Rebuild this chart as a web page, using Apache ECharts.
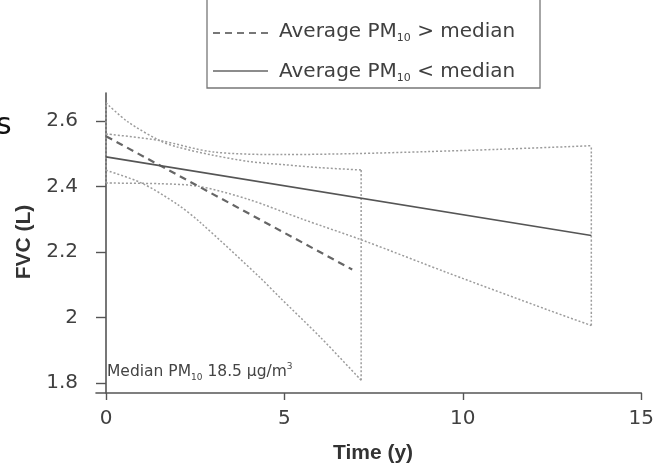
<!DOCTYPE html>
<html>
<head>
<meta charset="utf-8">
<script src="https://cdn.jsdelivr.net/npm/echarts@6/dist/echarts.min.js"></script>
<style>
html,body{margin:0;padding:0;background:#fff;}
#c{width:657px;height:467px;}
</style>
</head>
<body>
<div id="c"></div>
<script>
// ---- data ----
var xTicks = [0, 5, 10, 15];
var yTicks = [1.8, 2, 2.2, 2.4, 2.6];

// Average PM10 > median (dashed) : fitted line and confidence limits
var highMeanTime = [0, 6.9];
var highMeanFVC  = [2.553, 2.146];
var highUpperTime = [0, 0.6, 1.5, 2, 3, 4, 5, 6, 7.15];
var highUpperFVC  = [2.655, 2.598, 2.54, 2.52, 2.495, 2.476, 2.466, 2.457, 2.45];
var highLowerTime = [0, 1, 2, 2.64, 4.3, 4.86, 6, 7.15];
var highLowerFVC  = [2.449, 2.41, 2.345, 2.29, 2.123, 2.062, 1.94, 1.808];
var highEndTime = [7.15, 7.15];
var highEndFVC  = [1.808, 2.45];

// Average PM10 < median (solid) : fitted line and confidence limits
var lowMeanTime = [0, 13.6];
var lowMeanFVC  = [2.49, 2.25];
var lowUpperTime = [0, 1.5, 3, 5, 7, 9, 11, 13.6];
var lowUpperFVC  = [2.56, 2.54, 2.505, 2.497, 2.5, 2.506, 2.513, 2.524];
var lowLowerTime = [0, 1.5, 2.6, 4, 5.5, 7.2, 9.6, 12.4, 13.6];
var lowLowerFVC  = [2.41, 2.408, 2.4, 2.36, 2.3, 2.235, 2.135, 2.022, 1.975];
var lowEndTime = [13.6, 13.6];
var lowEndFVC  = [1.975, 2.524];

var startTime = [0, 0];
var startFVC  = [2.41, 2.655];

function pairs(xs, ys){ return xs.map(function(x,i){ return [x, ys[i]]; }); }

var ciStyle = {color:'#9c9c9c', width:1.5, type:[2,2]};
function ci(name, xs, ys){
  return {name:name, type:'line', data:pairs(xs,ys), symbol:'none', smooth:0.3,
          lineStyle:ciStyle, silent:true, z:2};
}

var chart = echarts.init(document.getElementById('c'), null, {renderer:'canvas'});
var FONT = 'DejaVu Sans';
chart.setOption({
  animation:false,
  backgroundColor:'#fff',
  grid:{left:96, right:12, top:93, bottom:74},
  xAxis:{
    type:'value', min:-0.28, max:15,
    axisLine:{show:true, lineStyle:{color:'#555', width:1.6}},
    axisTick:{show:true, length:7, customValues:xTicks, lineStyle:{color:'#555', width:1.4}},
    axisLabel:{customValues:xTicks, margin:16, color:'#404040', fontSize:20, fontFamily:FONT},
    splitLine:{show:false}
  },
  yAxis:{
    type:'value', min:1.769, max:2.685,
    axisLine:{show:true, lineStyle:{color:'#555', width:1.6}},
    axisTick:{show:true, length:10, customValues:yTicks, lineStyle:{color:'#555', width:1.4}},
    axisLabel:{customValues:yTicks, margin:18, color:'#404040', fontSize:20, fontFamily:FONT},
    splitLine:{show:false}
  },
  series:[
    ci('high upper', highUpperTime, highUpperFVC),
    ci('high lower', highLowerTime, highLowerFVC),
    ci('high end', highEndTime, highEndFVC),
    ci('low upper', lowUpperTime, lowUpperFVC),
    ci('low lower', lowLowerTime, lowLowerFVC),
    ci('low end', lowEndTime, lowEndFVC),
    ci('start', startTime, startFVC),
    {name:'Average PM10 > median', type:'line', data:pairs(highMeanTime, highMeanFVC), symbol:'none',
     lineStyle:{color:'#666', width:2.2, type:[7,5]}, z:3},
    {name:'Average PM10 < median', type:'line', data:pairs(lowMeanTime, lowMeanFVC), symbol:'none',
     lineStyle:{color:'#555', width:1.7}, z:3}
  ],
  graphic:[
    {type:'text', x:-4, y:126, style:{text:'s', fontSize:30, fontFamily:FONT, fill:'#111', verticalAlign:'middle'}},
    {type:'rect', shape:{x:207, y:-5, width:333, height:93}, style:{fill:'#fff', stroke:'#777', lineWidth:1.3}, z:10},
    {type:'line', shape:{x1:213, y1:33, x2:268, y2:33}, style:{stroke:'#777', lineWidth:2, lineDash:[7,5]}, z:11},
    {type:'line', shape:{x1:213, y1:71, x2:268, y2:71}, style:{stroke:'#666', lineWidth:1.5}, z:11},
    {type:'text', x:279, y:32, z:11, style:{
      text:'{a|Average PM}{s|10}{a| > median}', verticalAlign:'middle',
      rich:{a:{fontSize:20, fontFamily:FONT, fill:'#404040', lineHeight:24},
            s:{fontSize:11, fontFamily:FONT, fill:'#404040', verticalAlign:'bottom', lineHeight:11}}}},
    {type:'text', x:279, y:72, z:11, style:{
      text:'{a|Average PM}{s|10}{a| < median}', verticalAlign:'middle',
      rich:{a:{fontSize:20, fontFamily:FONT, fill:'#404040', lineHeight:24},
            s:{fontSize:11, fontFamily:FONT, fill:'#404040', verticalAlign:'bottom', lineHeight:11}}}},
    {type:'text', x:107, y:372, z:11, style:{
      text:'{a|Median PM}{s|10}{a| 18.5 μg/m}{p|3}', verticalAlign:'middle',
      rich:{a:{fontSize:15.5, fontFamily:FONT, fill:'#444', lineHeight:20},
            s:{fontSize:9, fontFamily:FONT, fill:'#444', verticalAlign:'bottom', lineHeight:9},
            p:{fontSize:9, fontFamily:FONT, fill:'#444', verticalAlign:'top', lineHeight:9}}}},
    {type:'text', x:373, y:453, z:11, style:{text:'Time (y)', fontSize:21, fontWeight:'bold', fontFamily:'Liberation Sans',
      fill:'#333', align:'center', verticalAlign:'middle'}},
    {type:'text', x:24, y:242, rotation:Math.PI/2, z:11, style:{text:'FVC (L)', fontSize:21, fontWeight:'bold', fontFamily:'Liberation Sans',
      fill:'#333', align:'center', verticalAlign:'middle'}}
  ]
});
</script>
</body>
</html>
